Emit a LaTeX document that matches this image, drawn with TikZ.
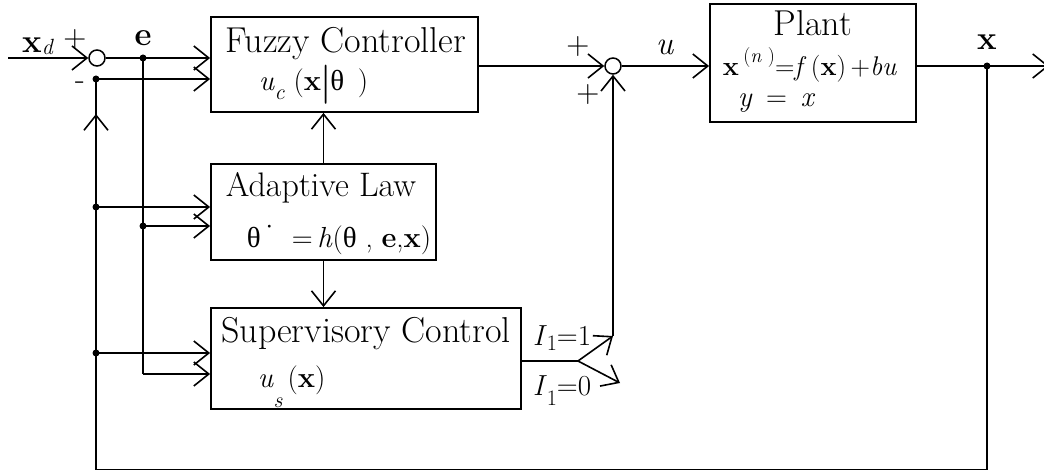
\documentclass[tikz,border=0pt]{standalone}
\usepackage{fontspec}
\newfontfamily\tms{Liberation Serif}
\usetikzlibrary{arrows.meta}
\newcommand\lowsub[2][0.3em]{\raisebox{-#1}{\fontsize{22}{24}\selectfont #2}}
\newcommand\hisup[1]{\raisebox{0.5em}{\fontsize{20}{22}\selectfont #1}}
\newcommand\thet{{\tms θ}}
\begin{document}
\begin{tikzpicture}[x=1pt,y=-1pt,
  line width=1.6pt,
  tip/.style={-{Straight Barb[length=15pt,width=24pt,line width=1.6pt]}},
  blk/.style={draw,line width=1.8pt,inner sep=0pt},
  sumn/.style={draw,circle,minimum size=16pt,inner sep=0pt,line width=1.5pt},
  dotn/.style={circle,fill,minimum size=7pt,inner sep=0pt},
  txt/.style={font=\fontsize{36}{40}\selectfont,inner sep=0pt},
  mth/.style={font=\fontsize{29}{34}\selectfont,inner sep=0pt},
  lbl/.style={font=\fontsize{33}{38}\selectfont,inner sep=0pt},
  pm/.style={font=\fontsize{32}{36}\selectfont,inner sep=0pt}]
\useasboundingbox (0,0) rectangle (1044,470);
\clip (0,0) rectangle (1044,470);

% blocks
\node[blk,minimum width=267pt,minimum height=95pt] (fc) at (344.5,64.5) {};
\node[blk,minimum width=225pt,minimum height=96pt] (ad) at (323.5,212) {};
\node[blk,minimum width=310pt,minimum height=101pt] (sup) at (366,358.5) {};
\node[blk,minimum width=206pt,minimum height=118pt] (pl) at (813,63) {};
\node[sumn] (s1) at (97,58) {};
\node[sumn] (s2) at (613,66) {};

% texts in blocks
\node[txt,anchor=base] (fct) at (346,53) {Fuzzy Controller};
\node[mth,anchor=base west] (fcm) at (258,91) {\textit{u}\lowsub{\textit{c}} (\textbf{x}\raisebox{-0.12em}{\scalebox{1}[1.35]{\textbf{|}}}\thet\ \,)};
\node[txt,anchor=base,font=\fontsize{34}{38}\selectfont] (adt) at (321,197) {Adaptive Law};
\node[mth,anchor=base west] (adm) at (246,248) {\thet\hisup{\textbf{·}}\ \,=\,\textit{h}(\thet\ , \textbf{e},\textbf{x})};
\node[txt,anchor=base] (supt) at (366,342) {Supervisory Control};
\node[mth,anchor=base west] (supm) at (257,387) {\textit{u}\lowsub[0.7em]{\textit{s}}\,(\textbf{x})};
\node[txt,anchor=base] (plt) at (813,36) {Plant};
\node[mth,anchor=base west,font=\fontsize{27}{32}\selectfont] (plm) at (722,76) {\textbf{x}\,\hisup{(\textit{n} )}=\textit{f}\,(\textbf{x})\,+\textit{bu}};
\node[mth,anchor=base west] (ply) at (737,107) {\textit{y} \,=\, \textit{x}};

% labels
\node[lbl,anchor=base] (lxd) at (38,53) {\textbf{x}\lowsub[0.05em]{\textit{d}}};
\node[pm] (p1) at (75,40) {+};
\node[pm] (m1) at (80,86) {-};
\node[lbl,anchor=base] (le) at (143,46) {\textbf{e}};
\node[pm] (p2) at (578,47) {+};
\node[pm] (p3) at (588,95) {+};
\node[lbl,anchor=base] (lu) at (665,55) {\textit{u}};
\node[lbl,anchor=base] (lx) at (987,50) {\textbf{x}};
\node[mth,anchor=base] (li1) at (562,345) {\textit{I}\lowsub[0.2em]{1}=1};
\node[mth,anchor=base] (li0) at (562,395) {\textit{I}\lowsub[0.35em]{1}=0};

% coordinates
\coordinate (in) at (8,58);
\coordinate (e) at (143,58);
\coordinate (eb) at (143,374);
\coordinate (ea) at (143,226);
\coordinate (fb1) at (96,79);
\coordinate (fba) at (96,207);
\coordinate (fbs) at (96,353);
\coordinate (bl) at (96,469.5);
\coordinate (br) at (987,469.5);
\coordinate (xo) at (987,66);
\coordinate (out) at (1049,66);
\coordinate (fbm1) at (96,135);
\coordinate (fbm2) at (96,114);
\coordinate (sw) at (578,361);
\coordinate (sw1) at (613,336);
\coordinate (sw0) at (620,383);

% connectors
\draw[tip] (in) -- (s1.west);
\draw[tip] (s1.east) -- (s1.east -| fc.west);
\draw[tip] (fb1) -- (fb1 -| fc.west);
\draw (fb1) -- (bl) -- (br) -- (xo);
\draw[tip] (fbm1) -- (fbm2);
\draw (e) -- (eb);
\draw[tip] (eb) -- (eb -| sup.west);
\draw[tip] (ea) -- (ea -| ad.west);
\draw[tip] (fba) -- (fba -| ad.west);
\draw[tip] (fbs) -- (fbs -| sup.west);
\draw[tip] (ad.north) -- (ad.north |- fc.south);
\draw[tip] (ad.south) -- (ad.south |- sup.north);
\draw[tip] (fc.east |- s2) -- (s2.west);
\draw[tip] (s2.east) -- (s2.east -| pl.west);
\draw[tip] (pl.east |- xo) -- (out);
\draw (sup.east |- sw) -- (sw);
\draw[tip] (sw) -- (sw1);
\draw[tip] (sw) -- (sw0);
\draw[tip] (sw1) -- (s2.south);

% dots
\node[dotn] (d1) at (e) {};
\node[dotn] (d2) at (ea) {};
\node[dotn] (d3) at (fb1) {};
\node[dotn] (d4) at (fba) {};
\node[dotn] (d5) at (fbs) {};
\node[dotn] (d6) at (xo) {};
\end{tikzpicture}
\end{document}
